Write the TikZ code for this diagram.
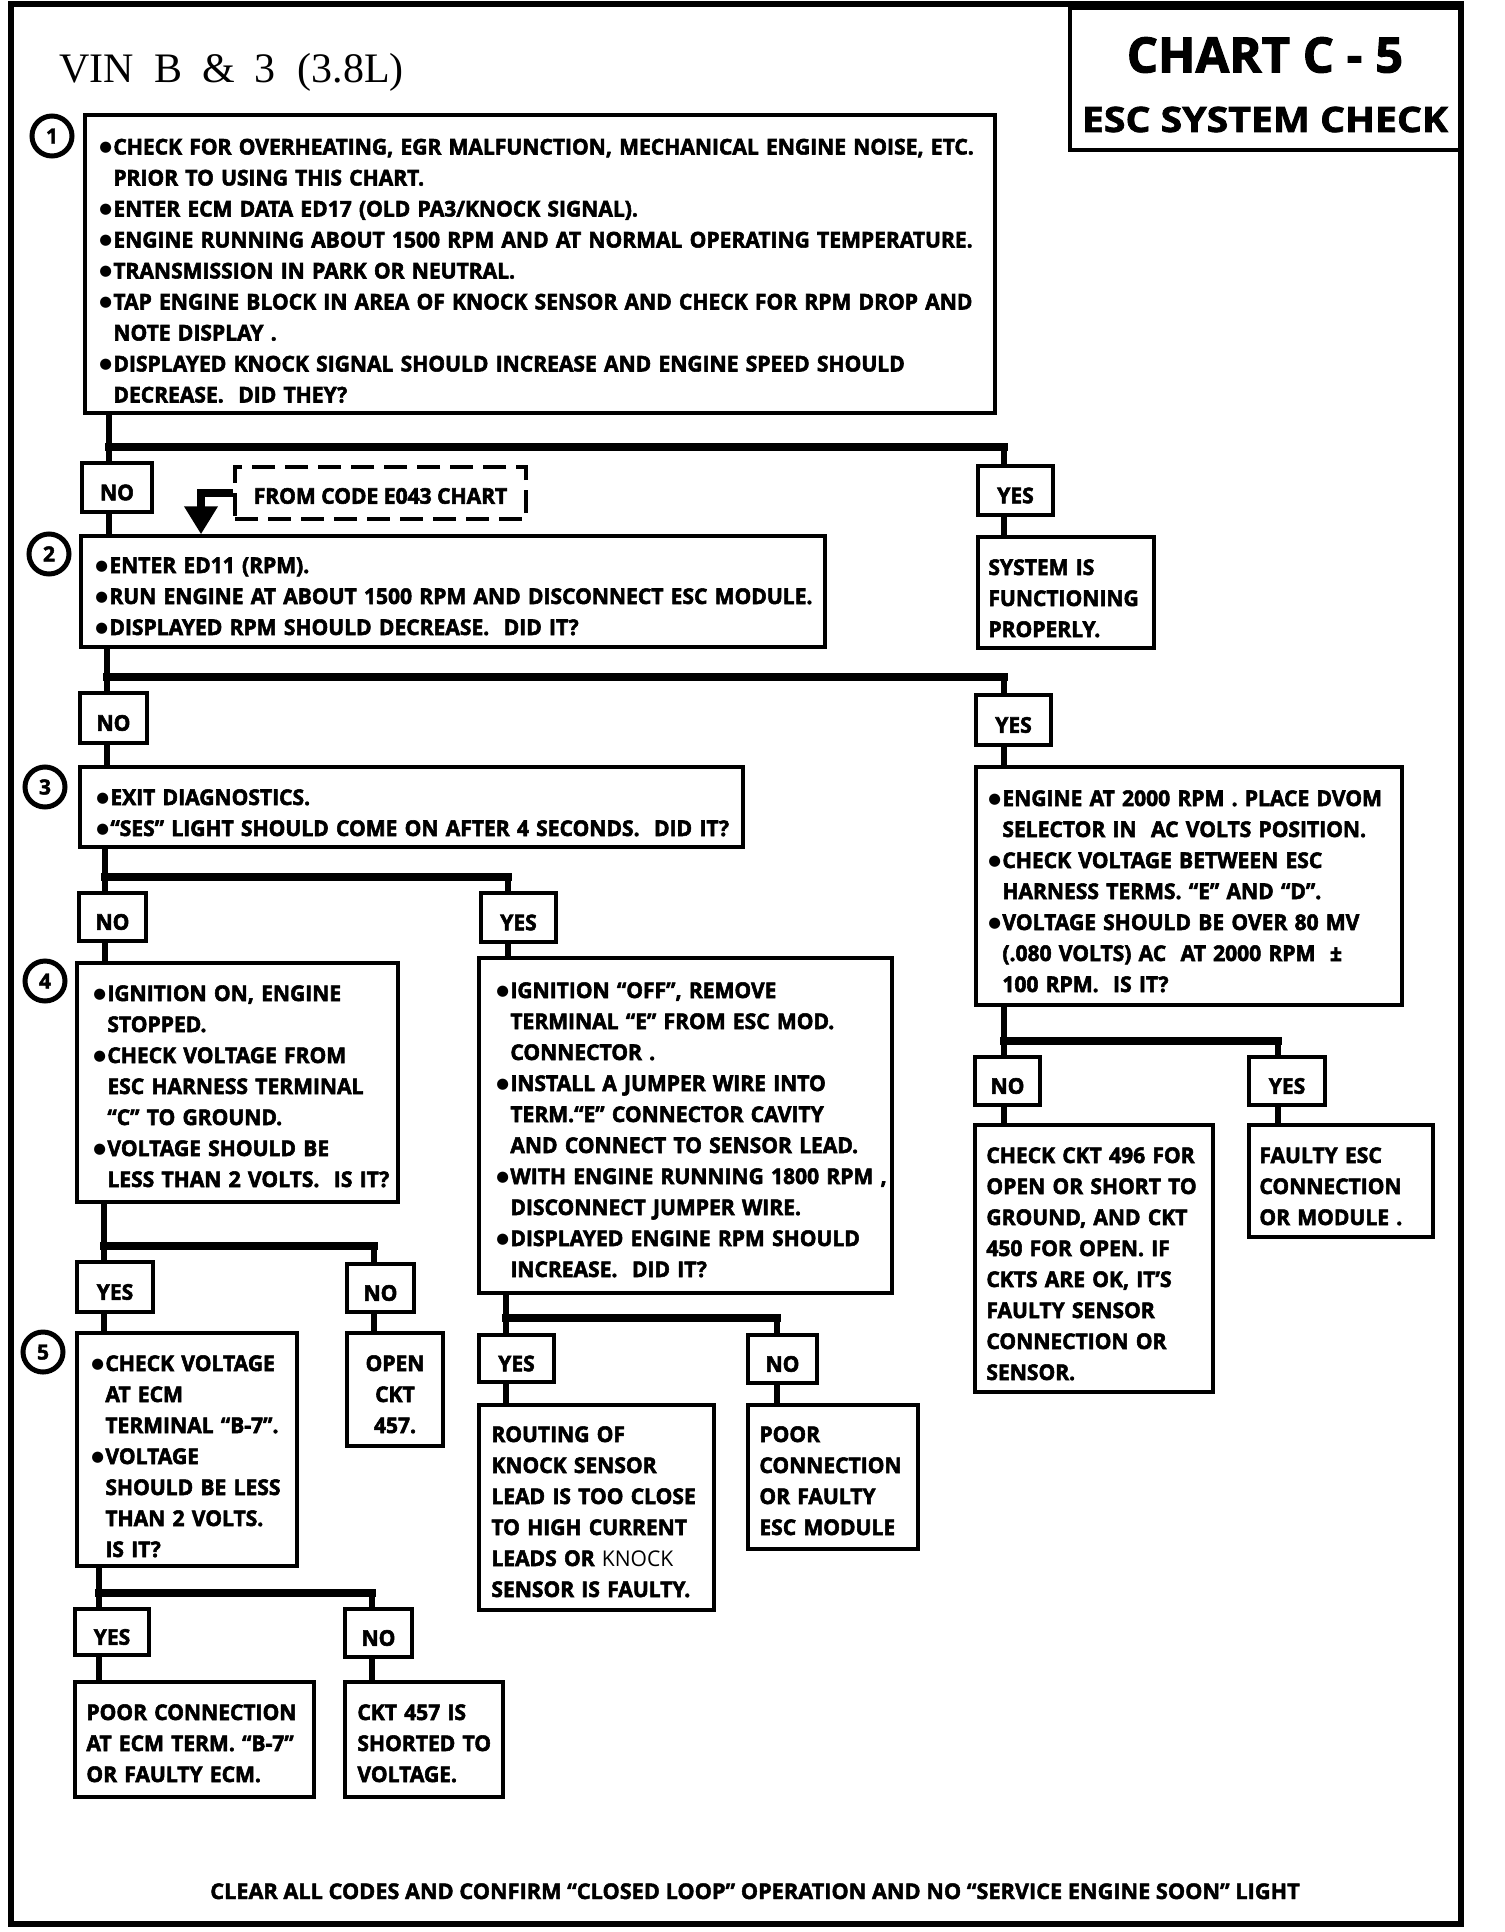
\documentclass[tikz,border=0pt]{standalone}
\usepackage{fontspec}
\setmainfont{Open Sans}[BoldFeatures={FakeBold=2}]
\newfontfamily\bodyfam{Open Sans}[FakeStretch=0.97, BoldFeatures={FakeBold=2.5}]
\newfontfamily\widefam{Open Sans}[FakeStretch=1.12, BoldFeatures={FakeBold=2}]
\newfontfamily\vinfont{Liberation Serif}
\newfontfamily\dejavu{DejaVu Sans}
\usetikzlibrary{arrows.meta}
\newcommand{\bodyf}{\fontsize{10.85pt}{15.5pt}\selectfont\bodyfam\bfseries}
\newcommand{\bul}{\makebox[7pt][l]{\raisebox{1.3pt}{\fontsize{7.3pt}{7pt}\selectfont\dejavu ●}}}
\newcommand{\ind}{\hspace*{7pt}}
\newcommand{\mkbox}[7]{%
  \pgfmathsetmacro{\bxw}{(#4-#2)*0.5}%
  \pgfmathsetmacro{\bxh}{(#5-#3)*0.5}%
  \node[#6, minimum width=\bxw pt, minimum height=\bxh pt] (#1) at ({(#2+#4)/2},{(#3+#5)/2}) {#7};}
\newcommand{\branch}[7]{%
  \draw[vl] (#1.south -| #2) -- (#4.north -| #2);
  \draw[hl] (#2) -- (#3);
  \draw[vl] (#3) -- (#5.north -| #3);
  \draw[vl] (#4.south -| #2) -- (#6.north -| #2);
  \draw[vl] (#5.south -| #3) -- (#7.north -| #3);}
\begin{document}
\begin{tikzpicture}[x=0.5pt,y=-0.5pt,
  box/.style={draw, line width=1.7pt, inner sep=0pt},
  yn/.style={box, font=\bodyf, text height=12.75pt, text depth=0pt},
  txt/.style={inner sep=0pt, align=left, font=\bodyf, anchor=base west, text width=#1},
  ctxt/.style={inner sep=0pt, align=center, font=\bodyf, anchor=base, text width=#1},
  vl/.style={line width=3pt},
  hl/.style={line width=4pt, line cap=rect},
  num/.style={draw, circle, line width=2.5pt, minimum size=20pt, inner sep=0pt,
    font=\fontsize{10.5pt}{10.5pt}\selectfont\bfseries, text height=7.5pt, text depth=0pt}]
\useasboundingbox (0,0) rectangle (1504,1932);
\fill[white] (0,0) rectangle (1504,1932);
% outer frame
\draw[line width=3pt] (11,4) rectangle (1461,1924);
% title block
\mkbox{chart}{1070}{8}{1462}{150}{box, line width=2pt}{}
\node[anchor=base, inner sep=0pt, font=\fontsize{24.5pt}{24.5pt}\selectfont\bfseries] (ct1) at (1265,72.5) {CHART C - 5};
\node[anchor=base, inner sep=0pt, font=\fontsize{17.5pt}{17.5pt}\selectfont\widefam\bfseries] (ct2) at (1265,132) {ESC SYSTEM CHECK};
\node[anchor=base west, inner sep=0pt, font=\fontsize{21pt}{21pt}\selectfont\vinfont] (vin) at (59,83) {VIN\hspace{10pt}B\hspace{10pt}\&\hspace{10pt}3\hspace{11pt}(3.8L)};
% step numbers
\node[num] (c1) at (52,136) {1};
\node[num] (c2) at (49,554) {2};
\node[num] (c3) at (45,787) {3};
\node[num] (c4) at (45,981) {4};
\node[num] (c5) at (43,1352) {5};
% boxes
\mkbox{b1}{85}{115}{995}{413}{box}{}
\mkbox{no1}{82}{463}{152}{512}{yn}{NO}
\mkbox{from}{235}{467}{526}{519}{box, line width=2.2pt, dash pattern=on 11.5pt off 5pt, font=\bodyf, text height=10.75pt, text depth=0pt}{FROM CODE E043 CHART}
\mkbox{yes1}{978}{466}{1053}{515}{yn}{YES}
\mkbox{sys}{978}{537}{1154}{648}{box}{}
\mkbox{b2}{81}{536}{825}{647}{box}{}
\mkbox{no2}{80}{693}{147}{743}{yn}{NO}
\mkbox{yes2}{976}{695}{1051}{745}{yn}{YES}
\mkbox{b3}{80}{767}{743}{847}{box}{}
\mkbox{r1}{976}{767}{1402}{1005}{box}{}
\mkbox{no3}{79}{893}{146}{941}{yn}{NO}
\mkbox{yes3}{481}{893}{556}{942}{yn}{YES}
\mkbox{b4}{77}{963}{398}{1202}{box}{}
\mkbox{b6}{479}{958}{892}{1293}{box}{}
\mkbox{nor}{975}{1057}{1040}{1105}{yn}{NO}
\mkbox{yesr}{1249}{1057}{1325}{1105}{yn}{YES}
\mkbox{ck496}{975}{1125}{1213}{1392}{box}{}
\mkbox{faulty}{1249}{1125}{1433}{1237}{box}{}
\mkbox{yes4}{77}{1262}{153}{1312}{yn}{YES}
\mkbox{no4}{347}{1264}{414}{1312}{yn}{NO}
\mkbox{b5}{77}{1333}{297}{1566}{box}{}
\mkbox{open}{347}{1333}{443}{1446}{box}{}
\mkbox{yes5}{479}{1335}{554}{1382}{yn}{YES}
\mkbox{no5}{748}{1335}{817}{1383}{yn}{NO}
\mkbox{rout}{479}{1405}{714}{1610}{box}{}
\mkbox{poor}{748}{1405}{918}{1549}{box}{}
\mkbox{yes6}{75}{1609}{149}{1655}{yn}{YES}
\mkbox{no6}{345}{1609}{412}{1657}{yn}{NO}
\mkbox{pecm}{75}{1682}{314}{1797}{box}{}
\mkbox{ck457}{345}{1682}{503}{1797}{box}{}
% texts
\node[txt=470pt] (b1t) at (99,154.5) {\bul CHECK FOR OVERHEATING, EGR MALFUNCTION, MECHANICAL ENGINE NOISE, ETC.\\
\ind PRIOR TO USING THIS CHART.\\
\bul ENTER ECM DATA ED17 (OLD PA3/KNOCK SIGNAL).\\
\bul ENGINE RUNNING ABOUT 1500 RPM AND AT NORMAL OPERATING TEMPERATURE.\\
\bul TRANSMISSION IN PARK OR NEUTRAL.\\
\bul TAP ENGINE BLOCK IN AREA OF KNOCK SENSOR AND CHECK FOR RPM DROP AND\\
\ind NOTE DISPLAY .\\
\bul DISPLAYED KNOCK SIGNAL SHOULD INCREASE AND ENGINE SPEED SHOULD\\
\ind DECREASE.\ \ DID THEY?};
\node[txt=380pt] (b2t) at (95,573) {\bul ENTER ED11 (RPM).\\
\bul RUN ENGINE AT ABOUT 1500 RPM AND DISCONNECT ESC MODULE.\\
\bul DISPLAYED RPM SHOULD DECREASE.\ \ DID IT?};
\node[txt=90pt] (syst) at (988,575) {SYSTEM IS\\ FUNCTIONING\\ PROPERLY.};
\node[txt=340pt] (b3t) at (96,805) {\bul EXIT DIAGNOSTICS.\\
\bul “SES” LIGHT SHOULD COME ON AFTER 4 SECONDS.\ \ DID IT?};
\node[txt=220pt] (r1t) at (988,806) {\bul ENGINE AT 2000 RPM . PLACE DVOM\\
\ind SELECTOR IN\ \ AC VOLTS POSITION.\\
\bul CHECK VOLTAGE BETWEEN ESC\\
\ind HARNESS TERMS. “E” AND “D”.\\
\bul VOLTAGE SHOULD BE OVER 80 MV\\
\ind (.080 VOLTS) AC\ \ AT 2000 RPM\ \ ±\\
\ind 100 RPM.\ \ IS IT?};
\node[txt=165pt] (b4t) at (93,1001) {\bul IGNITION ON, ENGINE\\
\ind STOPPED.\\
\bul CHECK VOLTAGE FROM\\
\ind ESC HARNESS TERMINAL\\
\ind “C” TO GROUND.\\
\bul VOLTAGE SHOULD BE\\
\ind LESS THAN 2 VOLTS.\ \ IS IT?};
\node[txt=215pt] (b6t) at (496,998) {\bul IGNITION “OFF”, REMOVE\\
\ind TERMINAL “E” FROM ESC MOD.\\
\ind CONNECTOR .\\
\bul INSTALL A JUMPER WIRE INTO\\
\ind TERM.“E” CONNECTOR CAVITY\\
\ind AND CONNECT TO SENSOR LEAD.\\
\bul WITH ENGINE RUNNING 1800 RPM ,\\
\ind DISCONNECT JUMPER WIRE.\\
\bul DISPLAYED ENGINE RPM SHOULD\\
\ind INCREASE.\ \ DID IT?};
\node[txt=120pt] (ck496t) at (986,1163) {CHECK CKT 496 FOR\\ OPEN OR SHORT TO\\ GROUND, AND CKT\\ 450 FOR OPEN. IF\\ CKTS ARE OK, IT’S\\ FAULTY SENSOR\\ CONNECTION OR\\ SENSOR.};
\node[txt=95pt] (faultyt) at (1259,1163) {FAULTY ESC\\ CONNECTION\\ OR MODULE .};
\node[txt=112pt] (b5t) at (91,1371) {\bul CHECK VOLTAGE\\
\ind AT ECM\\
\ind TERMINAL “B-7”.\\
\bul VOLTAGE\\
\ind SHOULD BE LESS\\
\ind THAN 2 VOLTS.\\
\ind IS IT?};
\node[ctxt=45pt] (opent) at (395,1371) {OPEN\\ CKT\\ 457.};
\node[txt=118pt] (routt) at (491,1442) {ROUTING OF\\ KNOCK SENSOR\\ LEAD IS TOO CLOSE\\ TO HIGH CURRENT\\ LEADS OR {\mdseries KNOCK}\\ SENSOR IS FAULTY.};
\node[txt=85pt] (poort) at (759,1442) {POOR\\ CONNECTION\\ OR FAULTY\\ ESC MODULE};
\node[txt=120pt] (pecmt) at (86,1720) {POOR CONNECTION\\ AT ECM TERM. “B-7”\\ OR FAULTY ECM.};
\node[txt=80pt] (ck457t) at (357,1720) {CKT 457 IS\\ SHORTED TO\\ VOLTAGE.};
\node[anchor=base, inner sep=0pt, font=\fontsize{10.85pt}{15.5pt}\selectfont\bfseries] (foot) at (755,1899) {CLEAR ALL CODES AND CONFIRM “CLOSED LOOP” OPERATION AND NO “SERVICE ENGINE SOON” LIGHT};
% branch coordinates
\coordinate (t1) at (109,447); \coordinate (t1r) at (1004,447);
\coordinate (t2) at (107,677); \coordinate (t2r) at (1004,677);
\coordinate (t3) at (105,877); \coordinate (t3r) at (508,877);
\coordinate (tr) at (1004,1041); \coordinate (trr) at (1278,1041);
\coordinate (t4) at (104,1246); \coordinate (t4r) at (374,1246);
\coordinate (t6) at (506,1318); \coordinate (t6r) at (777,1318);
\coordinate (t5) at (99,1593); \coordinate (t5r) at (372,1593);
\coordinate (ax) at (201,492);
% connectors
\branch{b1}{t1}{t1r}{no1}{yes1}{b2}{sys}
\branch{b2}{t2}{t2r}{no2}{yes2}{b3}{r1}
\branch{b3}{t3}{t3r}{no3}{yes3}{b4}{b6}
\branch{r1}{tr}{trr}{nor}{yesr}{ck496}{faulty}
\branch{b4}{t4}{t4r}{yes4}{no4}{b5}{open}
\branch{b6}{t6}{t6r}{yes5}{no5}{rout}{poor}
\branch{b5}{t5}{t5r}{yes6}{no6}{pecm}{ck457}
\draw[line width=4pt, -{Triangle[width=16pt,length=14pt]}] (from.west) -| (b2.north -| ax);
\end{tikzpicture}
\end{document}
